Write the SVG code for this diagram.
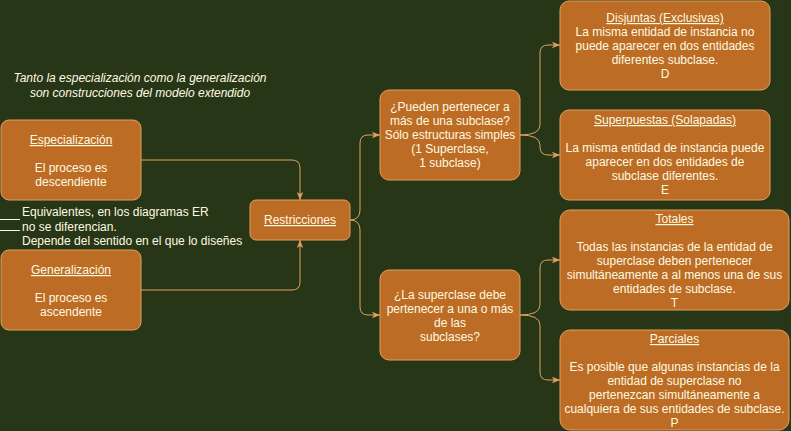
<svg xmlns="http://www.w3.org/2000/svg" width="791" height="431" viewBox="0 0 791 431">
<defs>
<style>
.box{fill:#BC6C25;stroke:#DDA15E;stroke-width:1}
.t{font-family:"Liberation Sans",Arial,sans-serif;font-size:12px;fill:#FEFAE0;text-anchor:middle}
.u{text-decoration:underline}
.tl{font-family:"Liberation Sans",Arial,sans-serif;font-size:12px;fill:#FEFAE0}
.e{fill:none;stroke:#DDA15E;stroke-width:1}
</style>
<marker id="arr" viewBox="0 0 10 10" refX="10" refY="5" markerWidth="8" markerHeight="8" markerUnits="userSpaceOnUse" orient="auto">
<path d="M0,1 L10,5 L0,9 L2.5,5 z" fill="#DDA15E"/>
</marker>
</defs>
<rect x="0" y="0" width="791" height="431" fill="#283618"/>

<g id="nota">
<text class="tl" x="140" y="82" text-anchor="middle" font-style="italic">Tanto la especialización como la generalización</text>
<text class="tl" x="140" y="97" text-anchor="middle" font-style="italic">son construcciones del modelo extendido</text>
</g>

<g id="equivalentes">
<line x1="0" y1="219.5" x2="20" y2="219.5" stroke="#FEFAE0" stroke-width="1"/>
<line x1="0" y1="230.5" x2="20" y2="230.5" stroke="#FEFAE0" stroke-width="1"/>
<text class="tl" x="22" y="216">Equivalentes, en los diagramas ER</text>
<text class="tl" x="22" y="231">no se diferencian.</text>
<text class="tl" x="22" y="245">Depende del sentido en el que lo diseñes</text>
</g>

<g id="connectors">
<path class="e" d="M141,160 H292 Q300,160 300,168 V200" marker-end="url(#arr)"/>
<path class="e" d="M141,290 H292 Q300,290 300,282 V240" marker-end="url(#arr)"/>
<path class="e" d="M350,220 Q360,220 360,210 V143 Q360,135 368,135 H380" marker-end="url(#arr)"/>
<path class="e" d="M350,220 Q360,220 360,230 V307 Q360,315 368,315 H380" marker-end="url(#arr)"/>
<path class="e" d="M520,135 Q540,135 540,125 V53 Q540,45 548,45 H560" marker-end="url(#arr)"/>
<path class="e" d="M520,135 Q540,135 540,145 V147 Q540,155 548,155 H560" marker-end="url(#arr)"/>
<path class="e" d="M520,315 Q540,315 540,305 V268 Q540,260 548,260 H560" marker-end="url(#arr)"/>
<path class="e" d="M520,315 Q540,315 540,325 V372 Q540,380 548,380 H560" marker-end="url(#arr)"/>
</g>

<g id="especializacion">
<rect class="box" x="1" y="120" width="140" height="80" rx="8"/>
<text class="t u" x="71" y="144">Especialización</text>
<text class="t" x="71" y="172">El proceso es</text>
<text class="t" x="71" y="186">descendiente</text>
</g>

<g id="generalizacion">
<rect class="box" x="1" y="250" width="140" height="80" rx="8"/>
<text class="t u" x="71" y="274">Generalización</text>
<text class="t" x="71" y="302">El proceso es</text>
<text class="t" x="71" y="316">ascendente</text>
</g>

<g id="restricciones">
<rect class="box" x="250" y="200" width="100" height="40" rx="6"/>
<text class="t u" x="300" y="224">Restricciones</text>
</g>

<g id="pregunta1">
<rect class="box" x="380" y="90" width="140" height="90" rx="9"/>
<text class="t" x="450" y="111">¿Pueden pertenecer a</text>
<text class="t" x="450" y="125">más de una subclase?</text>
<text class="t" x="450" y="139">Sólo estructuras simples</text>
<text class="t" x="450" y="153">(1 Superclase,</text>
<text class="t" x="450" y="167">1 subclase)</text>
</g>

<g id="pregunta2">
<rect class="box" x="380" y="270" width="140" height="90" rx="9"/>
<text class="t" x="450" y="299">¿La superclase debe</text>
<text class="t" x="450" y="313">pertenecer a una o más</text>
<text class="t" x="450" y="327">de las</text>
<text class="t" x="450" y="341">subclases?</text>
</g>

<g id="disjuntas">
<rect class="box" x="560" y="1" width="210" height="89" rx="9"/>
<text class="t u" x="665" y="22">Disjuntas (Exclusivas)</text>
<text class="t" x="665" y="36">La misma entidad de instancia no</text>
<text class="t" x="665" y="50">puede aparecer en dos entidades</text>
<text class="t" x="665" y="64">diferentes subclase.</text>
<text class="t" x="665" y="78">D</text>
</g>

<g id="superpuestas">
<rect class="box" x="560" y="110" width="210" height="90" rx="9"/>
<text class="t u" x="665" y="124">Superpuestas (Solapadas)</text>
<text class="t" x="665" y="152">La misma entidad de instancia puede</text>
<text class="t" x="665" y="166">aparecer en dos entidades de</text>
<text class="t" x="665" y="180">subclase diferentes.</text>
<text class="t" x="665" y="194">E</text>
</g>

<g id="totales">
<rect class="box" x="560" y="210" width="229" height="100" rx="10"/>
<text class="t u" x="674.5" y="223">Totales</text>
<text class="t" x="674.5" y="251">Todas las instancias de la entidad de</text>
<text class="t" x="674.5" y="265">superclase deben pertenecer</text>
<text class="t" x="674.5" y="279">simultáneamente a al menos una de sus</text>
<text class="t" x="674.5" y="293">entidades de subclase.</text>
<text class="t" x="674.5" y="307">T</text>
</g>

<g id="parciales">
<rect class="box" x="560" y="330" width="229" height="100" rx="10"/>
<text class="t u" x="674.5" y="343">Parciales</text>
<text class="t" x="674.5" y="371">Es posible que algunas instancias de la</text>
<text class="t" x="674.5" y="385">entidad de superclase no</text>
<text class="t" x="674.5" y="399">pertenezcan simultáneamente a</text>
<text class="t" x="674.5" y="413">cualquiera de sus entidades de subclase.</text>
<text class="t" x="674.5" y="427">P</text>
</g>
</svg>
